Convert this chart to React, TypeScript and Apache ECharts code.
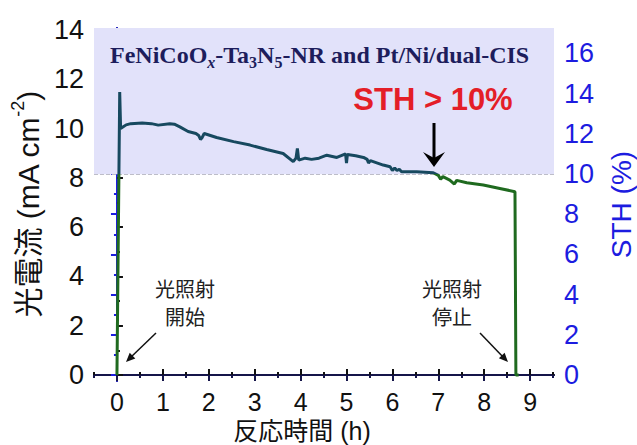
import React, { useEffect, useRef } from "react";
import * as echarts from "echarts";

// ---- data ----
const timeH = [0, 0.06, 0.08, 0.12, 0.2, 0.3, 0.55, 0.75, 0.9, 1.15, 1.25, 1.37, 1.55, 1.72, 1.78, 1.82, 1.86, 1.9, 2.17, 2.54, 2.9, 3.26, 3.62, 3.84, 3.9, 3.93, 3.96, 4.1, 4.24, 4.4, 4.57, 4.79, 4.98, 5.0, 5.02, 5.2, 5.37, 5.45, 5.48, 5.52, 5.8, 5.95, 6.0, 6.05, 6.1, 6.15, 6.2, 6.31, 6.53, 6.89, 7.0, 7.05, 7.1, 7.25, 7.35, 7.4, 7.62, 7.98, 8.34, 8.67, 8.69, 8.75];
const currentMA = [0, 11.48, 10.0, 10.05, 10.15, 10.2, 10.23, 10.2, 10.14, 10.2, 10.18, 10.07, 9.88, 9.8, 9.72, 9.56, 9.65, 9.8, 9.64, 9.47, 9.33, 9.15, 8.99, 8.66, 8.8, 9.19, 8.72, 8.8, 8.75, 8.8, 8.92, 8.83, 8.97, 8.6, 8.95, 8.9, 8.83, 8.75, 8.6, 8.7, 8.52, 8.45, 8.3, 8.4, 8.3, 8.35, 8.25, 8.25, 8.25, 8.21, 8.1, 7.95, 8.05, 7.91, 7.75, 7.9, 7.8, 7.71, 7.57, 7.44, 0, 0];

const xMajorTicks = [0, 1, 2, 3, 4, 5, 6, 7, 8, 9];
const xMinorTicks = [-0.5, 0.5, 1.5, 2.5, 3.5, 4.5, 5.5, 6.5, 7.5, 8.5, 9.5];
const yLeftMajorTicks = [0, 2, 4, 6, 8, 10, 12, 14];
const yLeftMinorTicks = [1, 3, 5, 7, 9, 11, 13];
const yRightMajorTicks = [0, 2, 4, 6, 8, 10, 12, 14, 16];
const yRightMinorTicks = [1, 3, 5, 7, 9, 11, 13, 15, 17];

const STH_THRESHOLD_MA = 8.15; // current equal to STH = 10 %
const X_RANGE = [-0.5, 9.52];
const Y_LEFT_RANGE = [-0.24, 14.08];
const Y_RIGHT_RANGE = [-0.3, 17.26];

const SANS = "'Liberation Sans', Arial, 'Noto Sans CJK JP', sans-serif";
const CJK = "'Liberation Sans', 'Noto Sans CJK JP', sans-serif";
const SERIF = "'Liberation Serif', 'Times New Roman', serif";
const BLUE = "#1c1ce0";
const BLACK = "#111111";

function tickAxis(extra: any) {
  return {
    type: "value",
    splitLine: { show: false },
    axisLine: { show: false },
    axisLabel: { show: false },
    axisTick: { show: false },
    ...extra,
  };
}

export default function App() {
  const ref = useRef<HTMLDivElement>(null);
  useEffect(() => {
    if (!ref.current) return;
    const chart = echarts.init(ref.current, null, { renderer: "svg" });
    const data = timeH.map((t, i) => [t, currentMA[i]]);
    const option: any = {
      animation: false,
      backgroundColor: "#ffffff",
      grid: { left: 94, right: 83, top: 28, bottom: 64, containLabel: false, outerBoundsMode: "none" },
      xAxis: [
        tickAxis({
          position: "bottom",
          min: X_RANGE[0],
          max: X_RANGE[1],
          axisLine: { show: true, lineStyle: { color: BLACK, width: 2 } },
          axisTick: { show: true, inside: true, length: 6, lineStyle: { color: BLACK, width: 2 }, customValues: xMajorTicks },
          axisLabel: { show: true, customValues: xMajorTicks, color: BLACK, fontSize: 25, lineHeight: 24, fontFamily: SANS, margin: 9 },
          name: "反応時間 (h)",
          nameLocation: "middle",
          nameGap: 37,
          nameMoveOverlap: false,
          nameTextStyle: { fontSize: 25, lineHeight: 26, fontFamily: CJK, color: BLACK, verticalAlign: "top", padding: [0, 44, 0, 0] },
        }),
        tickAxis({
          position: "bottom",
          min: X_RANGE[0],
          max: X_RANGE[1],
          axisTick: { show: true, inside: true, length: 3, lineStyle: { color: BLACK, width: 2 }, customValues: xMinorTicks },
        }),
        tickAxis({
          position: "top",
          min: X_RANGE[0],
          max: X_RANGE[1],
          axisLine: { show: true, lineStyle: { color: "#15154a", width: 2 } },
          axisTick: { show: true, inside: true, length: 6, lineStyle: { color: "#15154a", width: 2 }, customValues: xMajorTicks },
        }),
        tickAxis({
          position: "top",
          min: X_RANGE[0],
          max: X_RANGE[1],
          axisTick: { show: true, inside: true, length: 3, lineStyle: { color: "#15154a", width: 2 }, customValues: xMinorTicks },
        }),
      ],
      yAxis: [
        tickAxis({
          position: "left",
          min: Y_LEFT_RANGE[0],
          max: Y_LEFT_RANGE[1],
          axisLine: { show: true, lineStyle: { color: BLACK, width: 2 } },
          axisTick: { show: true, inside: true, length: 6, lineStyle: { color: BLACK, width: 2 }, customValues: yLeftMajorTicks },
          axisLabel: { show: true, customValues: yLeftMajorTicks, color: BLACK, fontSize: 27, fontFamily: SANS, margin: 10 },
          name: "{a|光電流 (mA cm}{sup|-2}{a|)}",
          nameLocation: "middle",
          nameGap: 50,
          nameRotate: 90,
          nameTextStyle: {
            color: BLACK,
            rich: {
              a: { fontSize: 30, fontFamily: CJK, color: BLACK, lineHeight: 34, verticalAlign: "bottom" },
              sup: { fontSize: 18, fontFamily: SANS, color: BLACK, lineHeight: 34, verticalAlign: "top" },
            },
          },
        }),
        tickAxis({
          position: "left",
          min: Y_LEFT_RANGE[0],
          max: Y_LEFT_RANGE[1],
          axisTick: { show: true, inside: true, length: 3, lineStyle: { color: BLACK, width: 2 }, customValues: yLeftMinorTicks },
        }),
        tickAxis({
          position: "right",
          min: Y_RIGHT_RANGE[0],
          max: Y_RIGHT_RANGE[1],
          axisLine: { show: true, lineStyle: { color: BLUE, width: 2 } },
          axisTick: { show: true, inside: true, length: 6, lineStyle: { color: BLUE, width: 2 }, customValues: yRightMajorTicks },
          axisLabel: { show: true, customValues: yRightMajorTicks, color: BLUE, fontSize: 27, fontFamily: SANS, margin: 10 },
          name: "STH (%)",
          nameLocation: "middle",
          nameGap: 53,
          nameRotate: 90,
          nameTextStyle: { fontSize: 28, fontFamily: SANS, color: BLUE },
        }),
        tickAxis({
          position: "right",
          min: Y_RIGHT_RANGE[0],
          max: Y_RIGHT_RANGE[1],
          axisTick: { show: true, inside: true, length: 3, lineStyle: { color: BLUE, width: 2 }, customValues: yRightMinorTicks },
        }),
      ],
      visualMap: {
        show: false,
        type: "piecewise",
        seriesIndex: 0,
        dimension: 1,
        pieces: [
          { gte: -1, lt: STH_THRESHOLD_MA, color: "#1f6a1f" },
          { gte: STH_THRESHOLD_MA, lte: 20, color: "#17495f" },
        ],
        outOfRange: { color: "#17495f" },
      },
      series: [
        {
          type: "line",
          xAxisIndex: 0,
          yAxisIndex: 0,
          data,
          showSymbol: false,
          symbol: "none",
          lineStyle: { width: 3 },
          z: 5,
          markArea: {
            silent: true,
            itemStyle: { color: "#e2e2fa" },
            data: [[{ yAxis: STH_THRESHOLD_MA }, { yAxis: Y_LEFT_RANGE[1] }]],
          },
          markLine: {
            silent: true,
            symbol: "none",
            label: { show: false },
            lineStyle: { color: "#bdbdc8", type: "dashed", width: 1 },
            data: [{ yAxis: STH_THRESHOLD_MA }],
          },
        },
      ],
      graphic: [
        {
          type: "text",
          left: 110,
          top: 43,
          z: 100,
          style: {
            text: "{a|FeNiCoO}{subi|x}{a|-Ta}{sub|3}{a|N}{sub|5}{a|-NR and Pt/Ni/dual-CIS}",
            rich: {
              a: { fontFamily: SERIF, fontWeight: "bold", fontSize: 24, fill: "#1d1d5c", lineHeight: 30, verticalAlign: "middle" },
              sub: { fontFamily: SERIF, fontWeight: "bold", fontSize: 16, fill: "#1d1d5c", lineHeight: 18, verticalAlign: "bottom" },
              subi: { fontFamily: SERIF, fontWeight: "bold", fontStyle: "italic", fontSize: 16, fill: "#1d1d5c", lineHeight: 18, verticalAlign: "bottom" },
            },
          },
        },
        {
          type: "text",
          x: 433,
          y: 99,
          z: 100,
          style: { text: "STH > 10%", fontFamily: SANS, fontWeight: "bold", fontSize: 31, fill: "#e41e28", align: "center", verticalAlign: "middle" },
        },
        { type: "line", z: 100, shape: { x1: 434, y1: 123, x2: 434, y2: 160 }, style: { stroke: "#000", lineWidth: 3 } },
        { type: "polygon", z: 100, shape: { points: [[423, 152], [434, 167], [445, 152], [434, 158]] }, style: { fill: "#000" } },
        {
          type: "text",
          x: 185,
          y: 304,
          z: 100,
          style: { text: "光照射\n開始", fontFamily: CJK, fontSize: 20, lineHeight: 28, fill: "#222", align: "center", verticalAlign: "middle" },
        },
        { type: "line", z: 100, shape: { x1: 156, y1: 333, x2: 130, y2: 358 }, style: { stroke: "#111", lineWidth: 1.5 } },
        { type: "polygon", z: 100, shape: { points: [[126, 362], [135.3, 358.6], [129.7, 352.8]] }, style: { fill: "#111" } },
        {
          type: "text",
          x: 452,
          y: 304,
          z: 100,
          style: { text: "光照射\n停止", fontFamily: CJK, fontSize: 20, lineHeight: 28, fill: "#222", align: "center", verticalAlign: "middle" },
        },
        { type: "line", z: 100, shape: { x1: 480, y1: 333, x2: 504, y2: 358 }, style: { stroke: "#111", lineWidth: 1.5 } },
        { type: "polygon", z: 100, shape: { points: [[508, 362], [498.9, 358.3], [504.6, 352.7]] }, style: { fill: "#111" } },
      ],
    };
    chart.setOption(option);
    return () => chart.dispose();
  }, []);
  return (
    <div
      ref={ref}
      style={{ position: "fixed", left: 0, top: 0, width: 637, height: 445, background: "#fff" }}
    />
  );
}
